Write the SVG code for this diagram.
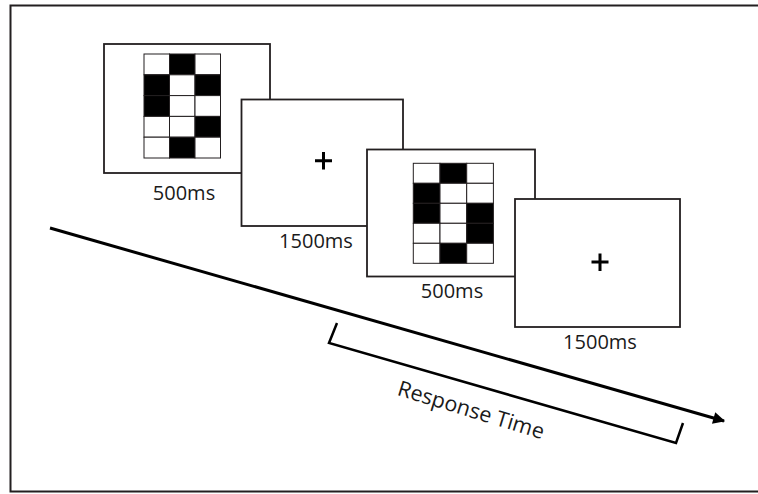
<svg xmlns="http://www.w3.org/2000/svg" width="758" height="494" viewBox="0 0 758 494">
<defs>
<style>
.frame{fill:#fff;stroke:#231f20;stroke-width:1.8}
.cell{stroke:#231f20;stroke-width:1}
.w{fill:#fff}
.b{fill:#000}
.lbl{font-family:"Open Sans","Liberation Sans",sans-serif;font-size:20px;fill:#1a1a1a;text-anchor:middle}
.plus{stroke:#000;stroke-width:3;fill:none}
.line{stroke:#000;stroke-width:3;fill:none}
</style>
<marker id="ah" viewBox="0 0 10 10" refX="9" refY="5" markerWidth="4.5" markerHeight="4" orient="auto" markerUnits="strokeWidth">
<path d="M0,0 L10,5 L0,10 Z" fill="#000"/>
</marker>
</defs>
<rect x="0" y="0" width="758" height="494" fill="#fff"/>
<rect x="10.5" y="5.5" width="760" height="486" fill="none" stroke="#231f20" stroke-width="2"/>

<g id="screen1">
<rect class="frame" x="104" y="44" width="166" height="129"/>
<g class="cell">
<rect class="w" x="144" y="54" width="25.5" height="20.8"/>
<rect class="b" x="169.5" y="54" width="25.5" height="20.8"/>
<rect class="w" x="195" y="54" width="25.5" height="20.8"/>
<rect class="b" x="144" y="74.8" width="25.5" height="20.8"/>
<rect class="w" x="169.5" y="74.8" width="25.5" height="20.8"/>
<rect class="b" x="195" y="74.8" width="25.5" height="20.8"/>
<rect class="b" x="144" y="95.6" width="25.5" height="20.8"/>
<rect class="w" x="169.5" y="95.6" width="25.5" height="20.8"/>
<rect class="w" x="195" y="95.6" width="25.5" height="20.8"/>
<rect class="w" x="144" y="116.4" width="25.5" height="20.8"/>
<rect class="w" x="169.5" y="116.4" width="25.5" height="20.8"/>
<rect class="b" x="195" y="116.4" width="25.5" height="20.8"/>
<rect class="w" x="144" y="137.2" width="25.5" height="20.8"/>
<rect class="b" x="169.5" y="137.2" width="25.5" height="20.8"/>
<rect class="w" x="195" y="137.2" width="25.5" height="20.8"/>
</g>
<text class="lbl" x="184" y="200">500ms</text>
</g>

<g id="screen2">
<rect class="frame" x="241.5" y="99.5" width="161.5" height="126.5"/>
<path class="plus" d="M315 160.7H332M323.5 152V169.5"/>
<text class="lbl" x="316" y="248">1500ms</text>
</g>

<g id="screen3">
<rect class="frame" x="367" y="149.5" width="168" height="127"/>
<g class="cell">
<rect class="w" x="413.3" y="163.3" width="26.7" height="20"/>
<rect class="b" x="440" y="163.3" width="26.7" height="20"/>
<rect class="w" x="466.7" y="163.3" width="26.7" height="20"/>
<rect class="b" x="413.3" y="183.3" width="26.7" height="20"/>
<rect class="w" x="440" y="183.3" width="26.7" height="20"/>
<rect class="w" x="466.7" y="183.3" width="26.7" height="20"/>
<rect class="b" x="413.3" y="203.3" width="26.7" height="20"/>
<rect class="w" x="440" y="203.3" width="26.7" height="20"/>
<rect class="b" x="466.7" y="203.3" width="26.7" height="20"/>
<rect class="w" x="413.3" y="223.3" width="26.7" height="20"/>
<rect class="w" x="440" y="223.3" width="26.7" height="20"/>
<rect class="b" x="466.7" y="223.3" width="26.7" height="20"/>
<rect class="w" x="413.3" y="243.3" width="26.7" height="20"/>
<rect class="b" x="440" y="243.3" width="26.7" height="20"/>
<rect class="w" x="466.7" y="243.3" width="26.7" height="20"/>
</g>
<text class="lbl" x="452" y="298">500ms</text>
</g>

<g id="screen4">
<rect class="frame" x="515" y="199" width="165" height="128"/>
<path class="plus" d="M591.5 262H608.5M600 253.5V271"/>
<text class="lbl" x="600" y="349">1500ms</text>
</g>

<g id="connectors">
<path class="line" d="M50 228L724 421" marker-end="url(#ah)"/>
<path d="M337 323L329 343L676 443L683 423" fill="none" stroke="#000" stroke-width="2.5" stroke-linejoin="miter"/>
<text class="lbl" x="0" y="0" font-size="21.5" transform="translate(469 417) rotate(17)" style="font-size:21.5px">Response Time</text>
</g>
</svg>
